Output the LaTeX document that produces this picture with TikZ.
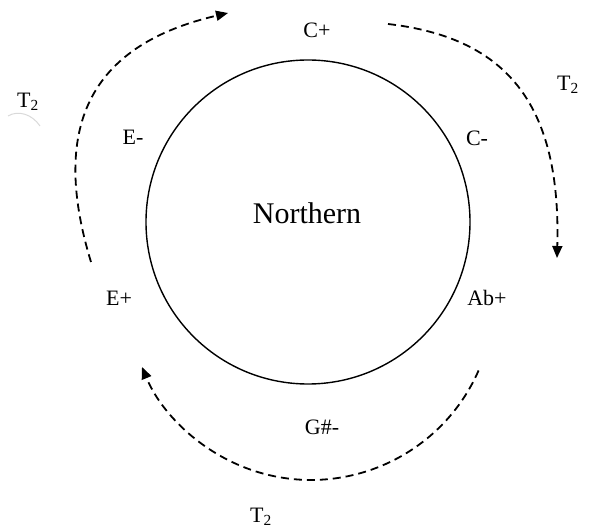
\documentclass[tikz,border=0pt]{standalone}
\usepackage{fontspec}
\setmainfont{Liberation Serif}
\usetikzlibrary{arrows.meta}
\tikzset{
  lbl/.style={font=\fontsize{22}{26}\selectfont, inner sep=0pt, anchor=center},
  title/.style={font=\fontsize{30}{36}\selectfont, inner sep=0pt, anchor=center},
  arr/.style={line width=1.8pt, dash pattern=on 8pt off 5pt, -{Triangle[length=12pt,width=10pt]}},
  ringstyle/.style={draw, circle, line width=1.4pt, minimum size=324pt, inner sep=0pt}
}
\begin{document}
\begin{tikzpicture}[x=1pt,y=-1pt]
\useasboundingbox (0,0) rectangle (590,529);
\node[ringstyle] (ring) at (308,222) {};
\node[title] (north) at (307,213) {Northern};
\node[lbl] (cp) at (317,30) {C+};
\node[lbl] (cm) at (477,138) {C-};
\node[lbl] (abp) at (487,298) {Ab+};
\node[lbl] (gm) at (322,427) {G\#-};
\node[lbl] (ep) at (119,298) {E+};
\node[lbl] (em) at (133,137) {E-};
\node[lbl] (t2l) at (28,102) {T\textsubscript{2}};
\node[lbl] (t2r) at (568,85) {T\textsubscript{2}};
\node[lbl] (t2b) at (261,517) {T\textsubscript{2}};
% faint gray mark
\coordinate (g1) at (8,116);
\coordinate (g2) at (40,126);
\draw[black!15, line width=1pt] (g1) .. controls (18,110) and (32,114) .. (g2);
% arrows
\coordinate (l1) at (91,262);
\coordinate (l2) at (228,13);
\draw[arr] (l1) .. controls (48,121) and (95,44) .. (l2);
\coordinate (r1) at (388,24);
\coordinate (r2) at (557,258);
\draw[arr] (r1) .. controls (510,38) and (561,108) .. (r2);
\coordinate (b1) at (478.6,370.5);
\draw[arr] (b1) arc[start angle=23.7, end angle=157.5, radius=183];
\end{tikzpicture}
\end{document}
